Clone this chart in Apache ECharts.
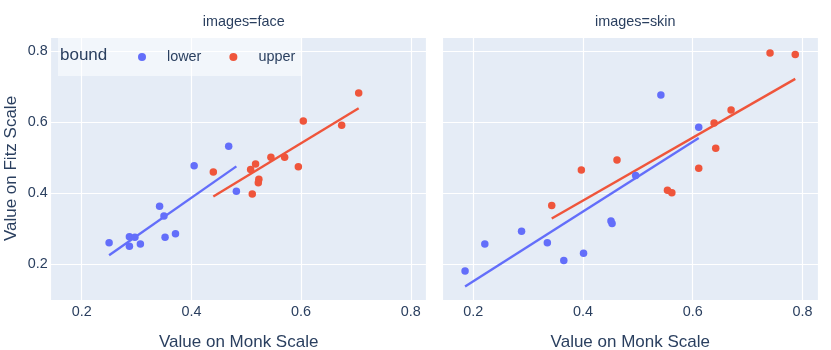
<!DOCTYPE html>
<html>
<head>
<meta charset="utf-8">
<script src="https://cdn.jsdelivr.net/npm/echarts@6/dist/echarts.min.js"></script>
<style>
	html, body { margin: 0; padding: 0; background: #fff; }
	#chart { width: 831px; height: 350px; }
</style>
</head>
<body>
<div id="chart"></div>
<script>
	// values (x = Monk scale, y = Fitz scale)
	var faceLowerX = [0.250, 0.287, 0.287, 0.297, 0.307, 0.342, 0.350, 0.352, 0.371, 0.405, 0.468, 0.482];
	var faceLowerY = [0.260, 0.277, 0.250, 0.275, 0.256, 0.363, 0.335, 0.275, 0.285, 0.477, 0.532, 0.405];
	var faceUpperX = [0.440, 0.508, 0.517, 0.511, 0.523, 0.522, 0.545, 0.570, 0.595, 0.604, 0.674, 0.705];
	var faceUpperY = [0.459, 0.466, 0.482, 0.397, 0.439, 0.429, 0.501, 0.501, 0.474, 0.603, 0.591, 0.682];
	var skinLowerX = [0.185, 0.221, 0.288, 0.335, 0.365, 0.401, 0.451, 0.453, 0.496, 0.542, 0.611];
	var skinLowerY = [0.180, 0.256, 0.292, 0.260, 0.210, 0.230, 0.321, 0.314, 0.449, 0.676, 0.585];
	var skinUpperX = [0.343, 0.397, 0.462, 0.554, 0.562, 0.611, 0.639, 0.642, 0.670, 0.741, 0.787];
	var skinUpperY = [0.365, 0.465, 0.493, 0.408, 0.401, 0.470, 0.597, 0.526, 0.634, 0.794, 0.790];

	var panelTitles = ['images=face', 'images=skin'];
	var boundNames = ['lower', 'upper'];
	var tickLabels = ['0.2', '0.4', '0.6', '0.8'];

	var BLUE = '#636efa';
	var RED = '#EF553B';
	var INK = '#2a3f5f';
	var FONT = '"Liberation Sans", Arial, sans-serif';

	function pairs(xs, ys) {
		var out = [];
		for (var i = 0; i < xs.length; i++) {
			out.push([xs[i], ys[i]]);
		}
		return out;
	}

	// ordinary least squares, drawn over the x range of the points
	function olsLine(xs, ys) {
		var n = xs.length, mx = 0, my = 0;
		for (var i = 0; i < n; i++) { mx += xs[i]; my += ys[i]; }
		mx /= n; my /= n;
		var sxy = 0, sxx = 0;
		for (var j = 0; j < n; j++) {
			sxy += (xs[j] - mx) * (ys[j] - my);
			sxx += (xs[j] - mx) * (xs[j] - mx);
		}
		var b = sxy / sxx, a = my - b * mx;
		var lo = Math.min.apply(null, xs), hi = Math.max.apply(null, xs);
		return [[lo, a + b * lo], [hi, a + b * hi]];
	}

	function showTick(v) {
		var s = v.toFixed(1);
		return tickLabels.indexOf(s) >= 0 && Math.abs(v - parseFloat(s)) < 1e-6 ? s : '';
	}

	function xAxisFor(idx) {
		return {
			type: 'value', gridIndex: idx, min: 0.1435, max: 0.829, splitNumber: 4,
			name: 'Value on Monk Scale', nameLocation: 'middle', nameGap: 34,
			nameTextStyle: { color: INK, fontSize: 17, fontFamily: FONT },
			axisLine: { show: false }, axisTick: { show: false },
			axisLabel: { color: INK, fontSize: 14.4, fontFamily: FONT, margin: 5,
				showMinLabel: false, showMaxLabel: false, formatter: showTick },
			splitLine: { lineStyle: { color: '#fff', width: 1.2 } }
		};
	}

	function yAxisFor(idx) {
		return {
			type: 'value', gridIndex: idx, min: 0.0986, max: 0.8394, splitNumber: 4,
			name: idx === 0 ? 'Value on Fitz Scale' : '', nameLocation: 'middle', nameGap: 31,
			nameTextStyle: { color: INK, fontSize: 17, fontFamily: FONT },
			axisLine: { show: false }, axisTick: { show: false },
			axisLabel: { show: idx === 0, color: INK, fontSize: 14.4, fontFamily: FONT, margin: 3,
				showMinLabel: false, showMaxLabel: false, formatter: showTick },
			splitLine: { lineStyle: { color: '#fff', width: 1.2 } }
		};
	}

	function scatter(name, idx, color, xs, ys) {
		return {
			name: name, type: 'scatter', xAxisIndex: idx, yAxisIndex: idx,
			symbolSize: 7.5, itemStyle: { color: color, opacity: 1 },
			data: pairs(xs, ys), z: 3
		};
	}

	function trend(name, idx, color, xs, ys) {
		return {
			name: name + ' trend', type: 'line', xAxisIndex: idx, yAxisIndex: idx,
			showSymbol: false, symbol: 'none', silent: true,
			lineStyle: { color: color, width: 2.4 }, itemStyle: { color: color },
			data: olsLine(xs, ys), z: 2
		};
	}

	var chart = echarts.init(document.getElementById('chart'), null, { renderer: 'canvas' });
	var option = {
		animation: false,
		backgroundColor: '#fff',
		title: [
			{ text: panelTitles[0], left: 238.7, top: 10, textAlign: 'center',
				textStyle: { color: INK, fontSize: 14.4, fontWeight: 'normal', fontFamily: FONT } },
			{ text: panelTitles[1], left: 630.3, top: 10, textAlign: 'center',
				textStyle: { color: INK, fontSize: 14.4, fontWeight: 'normal', fontFamily: FONT } }
		],
		grid: [
			{ left: 50.7, top: 37, width: 376, height: 263, show: true, backgroundColor: '#E5ECF6', borderWidth: 0, outerBoundsMode: 'none' },
			{ left: 442.3, top: 37, width: 376, height: 263, show: true, backgroundColor: '#E5ECF6', borderWidth: 0, outerBoundsMode: 'none' }
		],
		xAxis: [xAxisFor(0), xAxisFor(1)],
		yAxis: [yAxisFor(0), yAxisFor(1)],
		legend: {
			data: boundNames, left: 58, top: 37, orient: 'horizontal',
			icon: 'circle', itemWidth: 8, itemHeight: 8, itemGap: 28,
			padding: [13, 7, 12, 80],
			backgroundColor: 'rgba(255,255,255,0.5)',
			textStyle: { color: INK, fontSize: 14.4, fontFamily: FONT, padding: [0, 0, 0, 16] }
		},
		graphic: [
			{ type: 'text', left: 60, top: 47, z: 100,
				style: { text: 'bound', fill: INK, fontSize: 17, fontFamily: FONT } }
		],
		series: [
			trend(boundNames[0], 0, BLUE, faceLowerX, faceLowerY),
			trend(boundNames[1], 0, RED, faceUpperX, faceUpperY),
			trend(boundNames[0], 1, BLUE, skinLowerX, skinLowerY),
			trend(boundNames[1], 1, RED, skinUpperX, skinUpperY),
			scatter(boundNames[0], 0, BLUE, faceLowerX, faceLowerY),
			scatter(boundNames[1], 0, RED, faceUpperX, faceUpperY),
			scatter(boundNames[0], 1, BLUE, skinLowerX, skinLowerY),
			scatter(boundNames[1], 1, RED, skinUpperX, skinUpperY)
		]
	};
	chart.setOption(option);
</script>
</body>
</html>
